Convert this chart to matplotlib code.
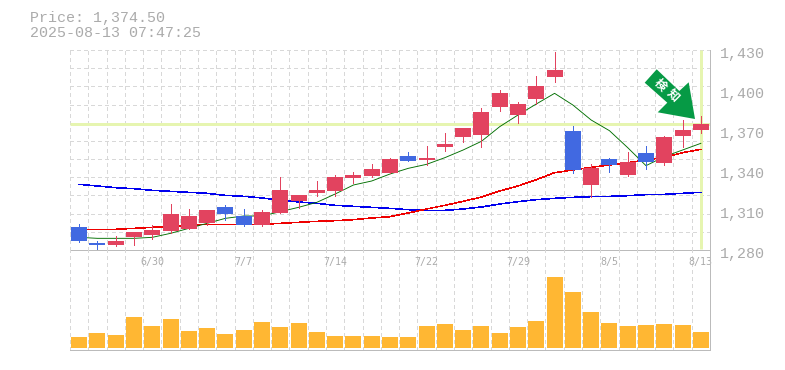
import matplotlib
matplotlib.use("Agg")
import matplotlib.pyplot as plt
import numpy as np
from matplotlib.patches import Polygon, Rectangle

# daily candles
opens = [1297.25, 1285.25, 1283.75, 1289.75, 1291.25, 1294.25, 1295.75, 1300.25, 1312.25, 1305.5,
         1298.75, 1307.75, 1316.75, 1322.75, 1324.25, 1334, 1335.5, 1337.75, 1350.5, 1347.5,
         1357.25, 1364.75, 1366.25, 1387.25, 1381.25, 1393.25, 1409.75, 1369.25, 1328.75, 1348.25,
         1336.25, 1352.75, 1345.25, 1365.5, 1370]
closes = [1286.75, 1283.75, 1286.75, 1293.5, 1295, 1307, 1305.5, 1310, 1307, 1298.75,
          1308.5, 1325, 1321.25, 1325, 1334.75, 1336.25, 1340.75, 1348.25, 1346.75, 1349,
          1359.5, 1371.5, 1383.5, 1397.75, 1389.5, 1403, 1415, 1340, 1341.5, 1343.75,
          1346, 1346, 1364.75, 1370, 1374.5]
highs = [1299.5, 1286.75, 1290.5, 1293.5, 1298.75, 1314.5, 1310.75, 1310, 1313.75, 1310.75,
         1310, 1334.75, 1321.25, 1331.75, 1336.25, 1338.5, 1344.5, 1349, 1353.5, 1358,
         1367.75, 1371.5, 1386.5, 1400, 1391, 1410.5, 1428.5, 1373, 1344.5, 1349,
         1353.5, 1358, 1365.5, 1377.5, 1380.5]
lows = [1286, 1279.25, 1283, 1283.75, 1288.25, 1292.75, 1295.75, 1298.75, 1302.5, 1298,
        1298, 1307.75, 1311.5, 1320.5, 1320.5, 1330.25, 1334.75, 1337.75, 1346.75, 1343.75,
        1354.25, 1361, 1357.25, 1384.25, 1375.25, 1389.5, 1406, 1337.75, 1319.75, 1338.5,
        1335.5, 1340.75, 1343.75, 1357.25, 1367.75]

ma_green = [1289.5, 1288.75, 1288.75, 1288.75, 1289.5, 1292.5, 1296.25, 1300, 1303.75, 1305.5,
            1305.5, 1308.75, 1312, 1315.75, 1322, 1328.75, 1331.75, 1337, 1341.25, 1344.25,
            1349.25, 1355, 1361.5, 1372.5, 1381.25, 1389.5, 1397.5, 1388.75, 1377.5, 1369.5,
            1356.75, 1343.25, 1350, 1355, 1360]
ma_red = [1295.5, 1295.5, 1295.5, 1296.25, 1297, 1297.75, 1298.5, 1299.25, 1299.25, 1299.25,
          1299.25, 1300, 1300.75, 1301.5, 1302, 1302.75, 1304, 1305, 1307.75, 1310.75,
          1313.5, 1316.5, 1319.75, 1324.25, 1328, 1332.75, 1338, 1340, 1342, 1343.75,
          1345.5, 1347.5, 1349.5, 1353, 1355.5]
ma_blue = [1329.25, 1328, 1326.75, 1326, 1324.75, 1324, 1323.25, 1322.5, 1321, 1320.25,
           1319, 1317.5, 1316, 1315, 1313.5, 1312.75, 1312, 1311.25, 1310.25, 1309.75,
           1309.75, 1310.75, 1312.25, 1314.5, 1316.25, 1317.75, 1318.75, 1319.5, 1320, 1320.25,
           1320.75, 1321.5, 1321.75, 1322.5, 1323.25]

volumes = [11, 15, 13, 31, 22, 29, 17, 20, 14, 18, 26, 21, 25, 16, 12, 12, 12, 11, 11, 22,
           24, 18, 22, 15, 21, 27, 71, 56, 36, 25, 22, 23, 24, 23, 16]

price_ticks = [1430, 1400, 1370, 1340, 1310, 1280]
date_pos = [4, 9, 14, 19, 24, 29, 34]
date_labels = ["6/30", "7/7", "7/14", "7/22", "7/29", "8/5", "8/13"]
last_price = 1374.5
title_lines = ["Price: 1,374.50", "2025-08-13 07:47:25"]

W, H = 785, 370
UP = "#E2435F"
DOWN = "#4169E1"
GRID = "#D8D8D8"
AXIS = "#BBBBBB"
TEXT = "#ABABAB"
MARK = "#E6F5B0"
MONO = "Liberation Mono"
PX = 72 / 100
THIN = 0.55 * PX  # aliased lines come out one pixel wide at this width


def box(x0, y0, x1, y1):
    return [x0 / W, 1 - y1 / H, (x1 - x0) / W, (y1 - y0) / H]


fig = plt.figure(figsize=(W / 100, H / 100), dpi=100)
ax = fig.add_axes(box(70, 50, 710, 250))
vol = fig.add_axes(box(70, 250, 710, 350))
x = np.arange(len(opens)) + 0.5

for a in (ax, vol):
    a.set_xlim(0, len(opens))
    a.set_xticks(np.arange(len(opens) + 1))
    a.grid(True, axis="x", color=GRID, lw=1 * PX, ls=(0, (4, 3)), antialiased=False, zorder=0)
    a.tick_params(left=False, right=False, bottom=False, top=False, labelleft=False, labelbottom=False)
    a.set_axisbelow(True)
    for s in ("top", "left"):
        a.spines[s].set_visible(False)
    for s in ("bottom", "right"):
        a.spines[s].set_color(AXIS)
        a.spines[s].set_linewidth(1 * PX)
        a.spines[s].set_antialiased(False)

ax.set_ylim(1280, 1430)
ax.set_yticks(np.linspace(1280, 1430, 12))
ax.grid(True, axis="y", color=GRID, lw=1 * PX, ls=(0, (4, 3)), antialiased=False, zorder=0)
ax.patch.set_alpha(0)
vol.patch.set_alpha(0)

# current price / current day highlight
ax.axhline(last_price, color=MARK, lw=3 * PX, zorder=1, solid_capstyle="butt")
ax.plot([x[-1], x[-1]], [1281, 1430], color=MARK, lw=3 * PX, zorder=1, solid_capstyle="butt")

ax.plot(x, ma_blue, color="#0000EE", lw=THIN, antialiased=False, zorder=2)
ax.plot(x, ma_red, color="#EE0000", lw=THIN, antialiased=False, zorder=2)
ax.plot(x, ma_green, color="#006E00", lw=0.9 * PX, zorder=2)

for i in range(len(opens)):
    c = UP if closes[i] >= opens[i] else DOWN
    ax.plot([x[i], x[i]], [lows[i], highs[i]], color=c, lw=1 * PX, antialiased=False, zorder=3, solid_capstyle="butt")
    ax.add_patch(Rectangle((x[i] - 0.44, min(opens[i], closes[i])), 0.88, abs(closes[i] - opens[i]),
                           facecolor=c, edgecolor="none", zorder=4))

vol.set_ylim(-2, 98)
vol.bar(x, volumes, width=0.88, color="#FFB733", zorder=3)

# price labels sit a little below their level
for p in price_ticks:
    ax.annotate(f"{p:,}", xy=(1, p), xycoords=("axes fraction", "data"), xytext=(9.5 * PX, -4.5 * PX),
                textcoords="offset points", ha="left", va="center", color=TEXT,
                fontsize=15 * PX, family=MONO, annotation_clip=False)

for i, lab in zip(date_pos, date_labels):
    vol.annotate(lab, xy=(x[i], 1), xycoords=("data", "axes fraction"), xytext=(0, -12 * PX),
                 textcoords="offset points", ha="center", va="center", color=TEXT,
                 fontsize=10 * PX, family="DejaVu Sans Mono", zorder=1)

fig.text(30 / W, 1 - 18 / H, title_lines[0], color=TEXT, fontsize=15 * PX, family=MONO, va="center")
fig.text(30 / W, 1 - 33 / H, title_lines[1], color=TEXT, fontsize=15 * PX, family=MONO, va="center")

# signal arrow, in pixel coordinates of the figure
arrow = [(644.7, 82.7), (656.7, 69.3), (679.3, 91), (688.7, 82.3), (695, 119), (657.7, 112.3), (667.3, 102.7)]
fig.add_artist(Polygon([(px / W, 1 - py / H) for px, py in arrow], closed=True, transform=fig.transFigure,
                       facecolor="#069A45", edgecolor="none", zorder=6))
for ch, (px, py) in zip("検知", [(660.7, 85), (672.3, 96)]):
    fig.text(px / W, 1 - py / H, ch, color="white", fontsize=12 * PX, family="Noto Sans CJK JP", weight="bold",
             rotation=-45, ha="center", va="center", zorder=7)

fig.savefig("out.png", dpi=100)
